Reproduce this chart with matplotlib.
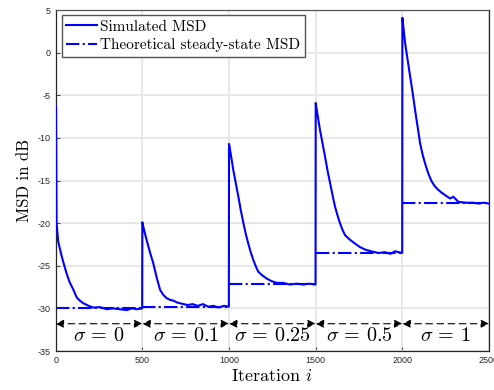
import matplotlib.pyplot as plt
import numpy as np

plt.rcParams['mathtext.fontset'] = 'cm'
plt.rcParams['axes.unicode_minus'] = False

# simulated MSD, one piece per noise level (iteration, dB)
seg1_i = [0, 2, 5, 15, 35, 50, 63, 80, 102, 121, 140, 160, 190, 217, 256, 294, 330, 370, 410, 440, 468, 499]
seg1_v = [-6.5, -6.3, -20.0, -22.2, -23.9, -25.0, -25.9, -26.9, -27.8, -28.7, -29.1, -29.4, -29.7, -29.9, -29.85, -30.1,
          -30.0, -30.1, -30.2, -30.0, -30.1, -30.0]
seg2_i = [500, 510, 525, 545, 563, 583, 602, 620, 640, 660, 680, 700, 717, 760, 790, 820, 850, 880, 910, 940, 970, 999]
seg2_v = [-19.9, -20.8, -22.0, -23.5, -24.7, -26.4, -27.8, -28.4, -28.8, -29.0, -29.1, -29.3, -29.4, -29.6, -29.5,
          -29.7, -29.5, -29.8, -29.7, -29.9, -29.7, -29.8]
seg3_i = [1000, 1010, 1025, 1040, 1054, 1068, 1083, 1097, 1111, 1125, 1140, 1155, 1169, 1190, 1217, 1245, 1275, 1310,
          1352, 1390, 1430, 1460, 1499]
seg3_v = [-10.7, -11.9, -13.8, -15.4, -16.9, -18.5, -20.0, -21.3, -22.4, -23.4, -24.3, -25.1, -25.7, -26.1, -26.5,
          -26.8, -27.0, -27.0, -27.2, -27.1, -27.2, -27.1, -27.2]
seg4_i = [1500, 1510, 1525, 1540, 1554, 1568, 1583, 1598, 1612, 1626, 1640, 1655, 1669, 1695, 1727, 1755, 1785, 1820,
          1862, 1900, 1930, 1958, 1999]
seg4_v = [-5.9, -7.2, -9.1, -10.7, -12.2, -13.8, -15.3, -16.8, -18.1, -19.1, -20.0, -20.8, -21.4, -21.9, -22.4,
          -22.8, -23.1, -23.3, -23.5, -23.4, -23.6, -23.3, -23.5]
seg5_i = [2000, 2008, 2016, 2030, 2045, 2060, 2073, 2088, 2102, 2116, 2131, 2150, 2169, 2188, 2208, 2225, 2246, 2260,
          2275, 2294, 2323, 2370, 2410, 2439, 2470, 2500]
seg5_v = [4.1, 2.6, 1.1, -0.8, -2.8, -4.8, -6.7, -8.7, -10.6, -11.9, -13.0, -14.2, -15.1, -15.7, -16.1, -16.4, -16.7,
          -16.9, -17.1, -16.9, -17.5, -17.6, -17.6, -17.7, -17.6, -17.7]

# theoretical steady-state MSD per segment
bounds = [0, 500, 1000, 1500, 2000, 2500]
theory = [-30.0, -29.8, -27.1, -23.5, -17.6]
sigmas = ['0', '0.1', '0.25', '0.5', '1']

sim_i = np.concatenate([seg1_i, seg2_i, seg3_i, seg4_i, seg5_i])
sim_v = np.concatenate([seg1_v, seg2_v, seg3_v, seg4_v, seg5_v])

fig = plt.figure(figsize=(4.94, 3.9), dpi=100)
ax = fig.add_axes([0.1127, 0.1, 0.8773, 0.874])

ax.plot(sim_i, sim_v, color='#0000ff', lw=1.5, label='Simulated MSD', zorder=3)
th_x, th_y = [], []
for k in range(len(theory)):
    th_x += [bounds[k], bounds[k + 1], np.nan]
    th_y += [theory[k], theory[k], np.nan]
ax.plot(th_x, th_y, color='#0000ff', lw=1.5, ls='-.', label='Theoretical steady-state MSD', zorder=2)

# double arrows with sigma labels
for k in range(len(sigmas)):
    ax.annotate('', xy=(bounds[k + 1], -31.8), xytext=(bounds[k], -31.8),
                arrowprops=dict(arrowstyle='<|-|>', color='k', lw=0.8, ls=(0, (6, 4)),
                                mutation_scale=12, shrinkA=0, shrinkB=0), zorder=4)
    ax.text((bounds[k] + bounds[k + 1]) / 2, -33.2, r'$\sigma\,=\,%s$' % sigmas[k],
            ha='center', va='center', fontsize=14.5)

ax.set_xlim(0, 2500)
ax.set_ylim(-35, 5)
ax.set_xticks(range(0, 2501, 500))
ax.set_yticks(range(-35, 6, 5))
ax.grid(True, color='#e8e8e8', lw=1.5)
ax.set_axisbelow(True)
ax.tick_params(direction='in', length=3, width=0.6, labelsize=6.5, colors='#262626')
for lab in ax.get_xticklabels() + ax.get_yticklabels():
    lab.set_family('Liberation Sans')
for s in ax.spines.values():
    s.set_linewidth(0.9)
    s.set_color('#262626')
ax.spines['top'].set_color('#555555')

ax.set_xlabel('Iteration $i$', fontsize=13, family='cmr10', labelpad=2)
ax.set_ylabel('MSD in dB', fontsize=12, family='cmr10', labelpad=4)

leg = ax.legend(loc='upper left', bbox_to_anchor=(0.014, 0.985), borderaxespad=0,
                prop={'family': 'cmr10', 'size': 11}, fancybox=False, framealpha=1,
                edgecolor='#555555', handlelength=2.0, handletextpad=0.2,
                borderpad=0.3, labelspacing=0.3)
leg.get_frame().set_linewidth(1.0)

fig.savefig('out.png', dpi=100)
